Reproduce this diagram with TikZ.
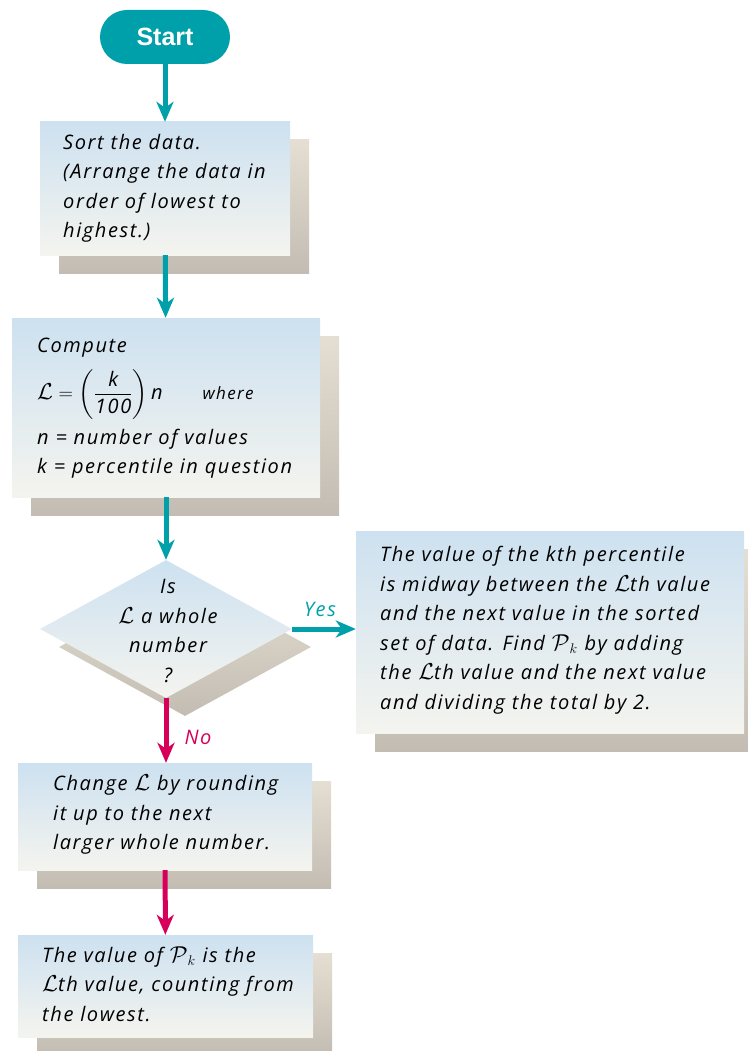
\documentclass[tikz,border=0pt]{standalone}
\usepackage{fix-cm}
\usepackage{amsmath}
\usepackage{fontspec}
\setmainfont{Open Sans}[LetterSpace=8]
\newfontfamily\startfont{Liberation Sans}
\usepackage{tikz}
\usetikzlibrary{shapes.geometric, shadows, arrows.meta}

\definecolor{flowteal}{RGB}{0,160,170}
\definecolor{flowred}{RGB}{214,0,90}
\definecolor{cardtop}{RGB}{205,225,240}
\definecolor{cardbot}{RGB}{244,244,239}
\definecolor{shadetop}{RGB}{229,223,211}
\definecolor{shadebot}{RGB}{195,188,178}

\newcommand\cardfont{\fontsize{20}{29.5}\selectfont\itshape}
\newcommand\Lval{\scalebox{1.15}{$\mathcal{L}$}}
\newcommand\Pval{\scalebox{1.15}{$\mathcal{P}$}$_k$}

\tikzset{
  cardshadow/.style={general shadow={shadow xshift=19pt, shadow yshift=-18pt, top color=shadetop, bottom color=shadebot}},
  card/.style={rectangle, inner sep=0pt, top color=cardtop, bottom color=cardbot, cardshadow},
  decision/.style={diamond, inner sep=0pt, minimum width=252pt, minimum height=138pt, top color=cardtop, bottom color=cardbot, cardshadow},
  cardtext/.style={anchor=west, inner sep=0pt, align=left, font=\cardfont},
  flow/.style={line width=5pt, -{Stealth[length=20pt, width=17pt, inset=6pt]}},
}

\begin{document}
\begin{tikzpicture}[x=1pt, y=-1pt]
    \useasboundingbox (0,0) rectangle (747,1051);

    \node[fill=flowteal, rounded corners=27pt, minimum width=130pt, minimum height=54pt, text=white,
        font=\startfont\bfseries\fontsize{25}{28}\selectfont] (start) at (165,37) {Start};

    % sort step
    \node[card, minimum width=250pt, minimum height=133pt] (sort) at (165,188.5) {};
    \node[cardtext] (sort-t) at (63,188.5) {Sort the data.\\ (Arrange the data in\\ order of lowest to\\ highest.)};

    % compute L
    \node[card, minimum width=308pt, minimum height=179pt] (comp) at (166,407.5) {};
    \node[cardtext] (comp-t) at (37,408) {Compute\\[12pt]
        \Lval${} = \biggl(\dfrac{\text{k}}{\text{100}}\biggr)$\,n\hspace{40pt}{\fontsize{17}{20}\selectfont where}\\[8pt]
        n = number of values\\
        k = percentile in question};

    % decision
    \node[decision] (whole) at (166,629) {};
    \node[font=\cardfont, align=center, inner sep=0pt] (whole-t) at (168,631) {Is\\ \Lval{} a whole\\ number\\ ?};

    % yes branch
    \node[card, minimum width=388pt, minimum height=202pt] (mid) at (550,632) {};
    \node[cardtext] (mid-t) at (380,630) {The value of the kth percentile\\
        is midway between the \Lval th value\\
        and the next value in the sorted\\
        set of data. Find \Pval{} by adding\\
        the \Lval th value and the next value\\
        and dividing the total by 2.};

    % no branch
    \node[card, minimum width=294pt, minimum height=107pt] (round) at (165,816.5) {};
    \node[cardtext] (round-t) at (53,815) {Change \Lval{} by rounding\\ it up to the next\\ larger whole number.};

    \node[card, minimum width=295pt, minimum height=102pt] (result) at (165.5,986) {};
    \node[cardtext] (result-t) at (42,984) {The value of \Pval{} is the\\ \Lval th value, counting from\\ the lowest.};

    \draw[flow, flowteal] (start) -- (sort);
    \draw[flow, flowteal] (sort) -- (comp);
    \draw[flow, flowteal] (comp) -- (whole);
    \draw[flow, flowteal] (whole.east) -- (whole.east -| mid.west);
    \draw[flow, flowred] (whole.south) -- (round.north -| whole.south);
    \draw[flow, flowred] (round) -- (result);

    \node[font=\cardfont, text=flowteal] (yes) at (320,609) {Yes};
    \node[font=\cardfont, text=flowred] (no) at (198,737) {No};
\end{tikzpicture}
\end{document}
